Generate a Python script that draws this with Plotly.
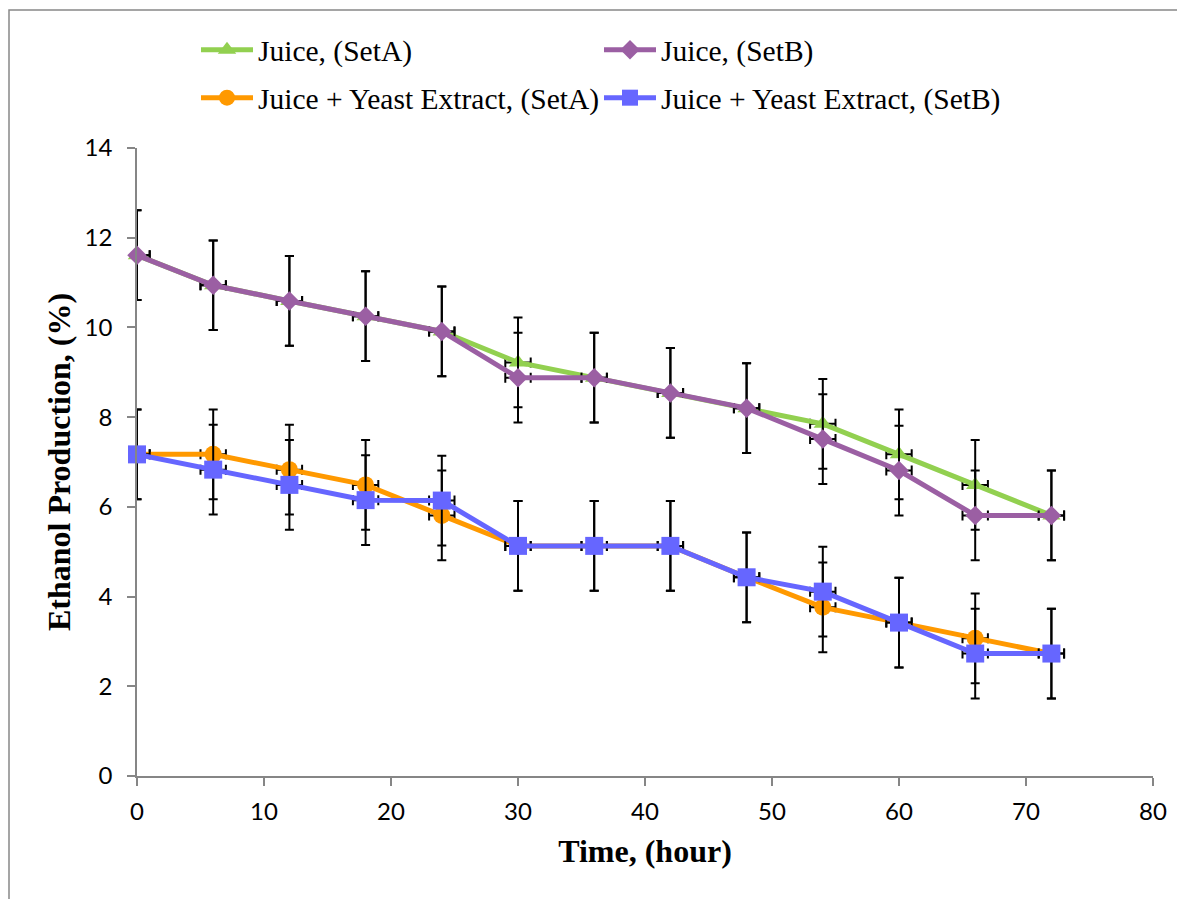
import plotly.graph_objects as go

hours = [0, 6, 12, 18, 24, 30, 36, 42, 48, 54, 60, 66, 72]
juice_a = [11.61, 10.94, 10.59, 10.25, 9.91, 9.22, 8.88, 8.54, 8.20, 7.85, 7.17, 6.49, 5.81]
juice_b = [11.61, 10.94, 10.59, 10.25, 9.91, 8.88, 8.88, 8.54, 8.20, 7.51, 6.81, 5.81, 5.81]
juice_ye_a = [7.17, 7.17, 6.83, 6.49, 5.81, 5.13, 5.13, 5.13, 4.43, 3.76, 3.42, 3.07, 2.73]
juice_ye_b = [7.17, 6.83, 6.49, 6.15, 6.14, 5.13, 5.13, 5.13, 4.43, 4.11, 3.42, 2.73, 2.73]
y_err = 1.0
x_err = 1.0

names = ["Juice, (SetA)", "Juice, (SetB)",
         "Juice + Yeast Extract, (SetA)", "Juice + Yeast Extract, (SetB)"]
series = [juice_a, juice_b, juice_ye_a, juice_ye_b]
colors = ["#92D050", "#9B5FA3", "#FF9900", "#6666FF"]
symbols = ["triangle-up", "diamond", "circle", "square"]
sizes = [16, 15, 17, 18]
legends = ["legend", "legend", "legend2", "legend2"]

fig = go.Figure()
for nm, ys, c, s, sz, lg in zip(names, series, colors, symbols, sizes, legends):
    fig.add_trace(go.Scatter(
        x=hours, y=ys, name=nm, mode="lines+markers",
        line=dict(color=c, width=5),
        marker=dict(color=c, symbol=s, size=sz, line=dict(width=0)),
        error_y=dict(type="constant", value=y_err, color="black", thickness=2, width=4.5),
        error_x=dict(type="constant", value=x_err, color="black", thickness=2, width=5),
        cliponaxis=False,
        legend=lg,
    ))

legend_common = dict(
    orientation="h", xref="container", yref="container",
    xanchor="left", yanchor="middle",
    font=dict(family="Liberation Serif", size=29.5, color="black"),
    itemwidth=52, entrywidth=336, bgcolor="rgba(0,0,0,0)",
)

fig.update_layout(
    width=1185, height=899,
    margin=dict(l=129, r=40, t=140, b=131, autoexpand=False),
    paper_bgcolor="white", plot_bgcolor="white",
    legend=dict(x=188 / 1185, y=1 - 42 / 899, **legend_common),
    legend2=dict(x=188 / 1185, y=1 - 90 / 899, **legend_common),
    xaxis=dict(
        range=[0, 80], dtick=10, tick0=0, showgrid=False, zeroline=False,
        showline=True, linecolor="#868686", linewidth=1.5,
        ticks="outside", ticklen=8, tickcolor="#868686", tickwidth=1.5,
        tickfont=dict(family="Lato", size=24, color="black"),
        ticklabelstandoff=5,
        title=dict(text="<b>Time, (hour)</b>", standoff=16,
                   font=dict(family="Liberation Serif", size=32, color="black")),
    ),
    yaxis=dict(
        range=[0, 14], dtick=2, tick0=0, showgrid=False, zeroline=False,
        showline=True, linecolor="#868686", linewidth=1.5,
        ticks="outside", ticklen=8, tickcolor="#868686", tickwidth=1.5,
        tickfont=dict(family="Lato", size=24, color="black"),
        ticklabelstandoff=10,
        title=dict(text="<b>Ethanol Production, (%)</b>", standoff=4,
                   font=dict(family="Liberation Serif", size=32, color="black")),
    ),
    shapes=[dict(type="rect", xref="paper", yref="paper",
                 x0=(1 - 129) / 1016, x1=1.2, y0=-0.3, y1=(768 - 2) / 628,
                 line=dict(color="#888888", width=1.5), layer="below")],
)

fig.write_html("out.html")
